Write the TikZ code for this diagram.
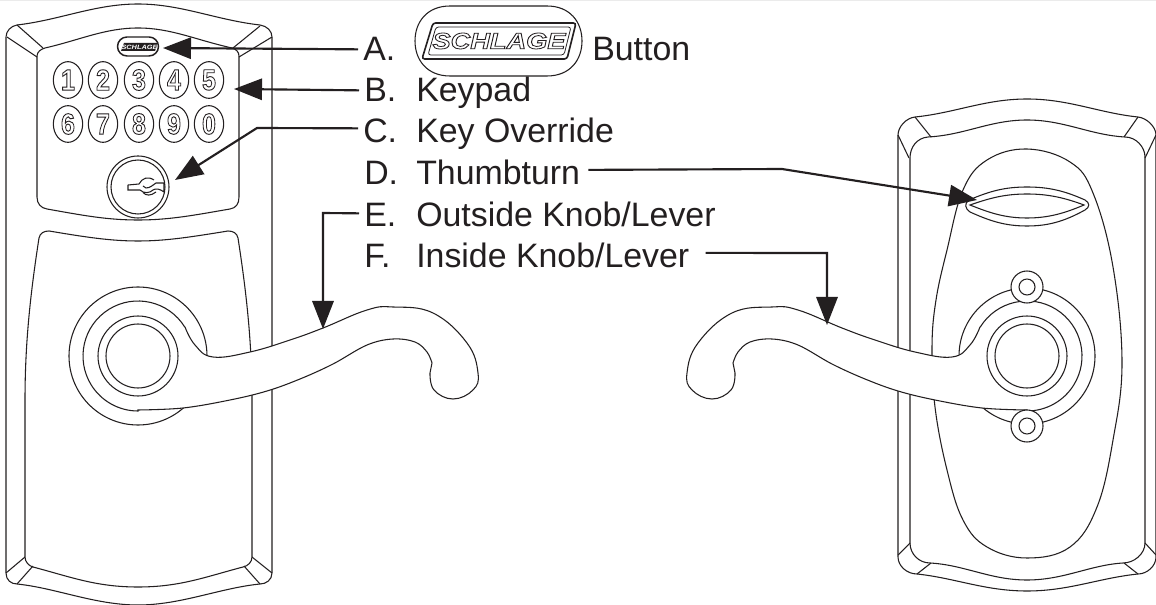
\documentclass[tikz,border=0pt]{standalone}
\usepackage{fontspec}
\setmainfont{Liberation Sans}
\usetikzlibrary{arrows.meta,calc,shapes.geometric}
\definecolor{ink}{HTML}{231F20}
\newcommand{\outlined}[2]{\special{pdf:code q 1 Tr #1 w 0.14 0.12 0.13 RG}#2\special{pdf:code 0 Tr Q}}
\newcommand{\leverpath}{%
  \draw[lw,fill=white] (138,356) ++(-32:55) arc[start angle=-32,end angle=-270,radius=55]
   -- plot[smooth,tension=.6] coordinates {(138,410) (183,408) (230,400) (267,391) (300,379) (333,364) (367,345) (393,339) (415,342) (427,352) (432,363)}
   -- plot[smooth,tension=.7] coordinates {(430,373) (434,390) (453,399) (473,390) (478,373) (467,343) (433,313) (393,307) (367,310) (323,328) (290,340) (250,352) (213,357) (195,345) (185,327)} -- cycle;
}
\tikzset{
  lw/.style={line width=.8pt,draw=ink},
  labeltext/.style={font=\fontsize{25.4}{30}\selectfont,text=ink,anchor=base west,inner sep=0pt},
  pointer/.style={line width=1.6pt,draw=ink,-{Triangle[length=21pt,width=16pt,fill=ink]}},
  keybtn/.style={ellipse,draw=ink,line width=.8pt,minimum width=22pt,minimum height=27.5pt,inner sep=0pt},
  x=.75pt,y=-.75pt
}
\begin{document}
\begin{tikzpicture}
\useasboundingbox (0,0) rectangle (1156,605);
\fill[white] (0,0) rectangle (1156,605);
\fill[black!8] (0,0) rectangle (1156,1);
% ---------- left plate
\draw[lw] (17,25) .. controls (60,20) and (95,4) .. (138,4) .. controls (181,4) and (216,20) .. (260,25)
  .. controls (267,26) and (272,31) .. (272,37) -- (272,573) .. controls (272,580) and (266,584) .. (260,584)
  .. controls (220,588) and (181,605) .. (138,605) .. controls (95,605) and (56,588) .. (17,584)
  .. controls (11,584) and (6,580) .. (6,573) -- (6,37) .. controls (6,31) and (11,26) .. (17,25) -- cycle;
\draw[lw] (45,48) .. controls (80,40) and (105,28) .. (138,28) .. controls (171,28) and (196,40) .. (232,48)
  .. controls (236,49) and (239,52) .. (239,56) -- (239,197) .. controls (239,204) and (236,208) .. (230,209)
  .. controls (195,215) and (170,220) .. (138,220) .. controls (106,220) and (81,215) .. (47,209)
  .. controls (41,208) and (37,204) .. (37,197) -- (37,56) .. controls (37,52) and (41,49) .. (45,48) -- cycle;
\draw[lw] (49,231) .. controls (85,237) and (110,241) .. (138,241) .. controls (166,241) and (191,237) .. (228,231)
  .. controls (233,231) and (237,233) .. (238,238) .. controls (246,290) and (252,340) .. (252,400) -- (252,557)
  .. controls (252,562) and (248,566) .. (243,567) .. controls (205,577) and (180,587) .. (138,587)
  .. controls (96,587) and (71,577) .. (33,567) .. controls (29,566) and (25,562) .. (25,557) -- (25,400)
  .. controls (25,340) and (31,290) .. (39,238) .. controls (40,233) and (44,231) .. (49,231) -- cycle;
\draw[lw] (17,25)--(43,48) (7,37)--(37,57) (260,26)--(233,48) (272,37)--(239,57)
  (25,557)--(6,573) (33,566)--(17,584) (252,557)--(272,573) (244,566)--(260,584);
% ---------- left logo button
\draw[draw=ink,line width=1.1pt] (127,37) -- (149,37) arc[start angle=-90,end angle=90,radius=9.5] -- (127,56) arc[start angle=90,end angle=270,radius=9.5] -- cycle;
\fill[ink] (124,43) -- (158,43) -- (155,51) -- (121,51) -- cycle;
\node[inner sep=0pt,text=white] (smalllogo) at (139.5,47) {\scalebox{1.2}[1]{\fontsize{4.6}{5}\selectfont\bfseries\itshape SCHLAGE}};
% ---------- keys
\foreach \d/\cx/\cy in {1/68/80,2/103/80,3/139/80,4/174/80,5/209/80,6/68/124,7/103/124,8/139/124,9/174/124,0/209/124}{
  \node[keybtn] (k\d) at (\cx,\cy) {\scalebox{.85}[1]{\fontsize{22}{24}\selectfont\bfseries\outlined{0.7}{\d}}};
}
% ---------- key cylinder
\draw[lw] (138,187) circle[radius=31] (138,187) circle[radius=27];
\draw[lw] (128,185) -- (139,184) .. controls (142,178) and (148,176) .. (154,180);
\draw[lw] (128,185) -- (128,190) -- (140,190) .. controls (144,194) and (150,193) .. (153,190) .. controls (156,188) and (160,189) .. (164,192) -- (164,183) -- (156,183)
  .. controls (153,185) and (150,188) .. (146,188) -- (143,186);
\draw[lw] (143,192.5) .. controls (146,196) and (151,196) .. (156,192);
% ---------- lever left
\draw[lw,fill=white] (138,356) circle[radius=69];
\leverpath
\draw[lw] (138,356) circle[radius=40] (138,356) circle[radius=32];
% ---------- right plate
\draw[lw] (915,117) .. controls (955,113) and (985,99) .. (1027,99) .. controls (1069,99) and (1099,113) .. (1138,117)
 .. controls (1147,118) and (1156,127) .. (1156,135) -- (1156,557) .. controls (1156,566) and (1147,574) .. (1138,574)
 .. controls (1099,578) and (1069,591) .. (1027,591) .. controls (985,591) and (955,578) .. (917,574)
 .. controls (907,574) and (898,566) .. (898,557) -- (898,135) .. controls (898,127) and (906,118) .. (915,117) -- cycle;
\draw[lw] (928,137) .. controls (965,135) and (990,120) .. (1027,120) .. controls (1064,120) and (1090,135) .. (1125,137)
 .. controls (1136,137) and (1145,147) .. (1145,157) -- (1145,543) .. controls (1145,554) and (1134,563) .. (1123,563)
 .. controls (1090,565) and (1064,580) .. (1027,580) .. controls (990,580) and (965,565) .. (930,563)
 .. controls (919,563) and (910,554) .. (910,543) -- (910,158) .. controls (910,147) and (917,138) .. (928,137) -- cycle;
\draw[lw] (915,117)--(931,137) (898,135)--(909,158) (1138,117)--(1124,137) (1156,135)--(1145,158)
 (898,555)--(910,543) (917,574)--(931,563) (1138,574)--(1124,563) (1156,555)--(1145,543);
% oval
\draw[lw] plot[smooth cycle,tension=.65] coordinates {(1027,149) (987,160) (963,190) (947,250) (936,300) (932,347) (935,407) (947,470) (963,520) (987,547) (1027,558) (1070,547) (1097,507) (1113,440) (1122,363) (1113,267) (1093,193) (1070,162)};
% thumbturn
\draw[lw] (969,200) .. controls (990,191) and (1005,187) .. (1027,187) .. controls (1049,187) and (1065,191) .. (1085,200)
 .. controls (1090,203) and (1090,207) .. (1085,210) .. controls (1065,221) and (1049,226) .. (1027,226)
 .. controls (1005,226) and (990,221) .. (970,212) .. controls (965,209) and (964,203) .. (969,200) -- cycle;
\draw[lw] (970,205) .. controls (990,198) and (1005,194) .. (1027,194) .. controls (1049,194) and (1065,198) .. (1084,205)
 .. controls (1065,213) and (1049,218) .. (1027,218) .. controls (1005,218) and (990,213) .. (970,205) -- cycle;
% right lever
\draw[lw,fill=white] (1027,356) circle[radius=68];
\begin{scope}[shift={(1165,0)},xscale=-1]
\leverpath
\end{scope}
\draw[lw] (1027,356) circle[radius=40] (1027,356) circle[radius=32];
\draw[lw,fill=white] (1027,287) circle[radius=16];
\draw[lw] (1027,287) circle[radius=8];
\draw[lw,fill=white] (1027,426) circle[radius=16];
\draw[lw] (1027,426) circle[radius=8];
% ---------- labels
\node[labeltext] (lA) at (363,61) {A.};
\node[labeltext] (lB) at (364,102) {B.};
\node[labeltext] (lC) at (363,143) {C.};
\node[labeltext] (lD) at (364,185) {D.};
\node[labeltext] (lE) at (364,227) {E.};
\node[labeltext] (lF) at (364,268) {F.};
\node[labeltext] (tB) at (416,102) {Keypad};
\node[labeltext] (tC) at (416,143) {Key Override};
\node[labeltext] (tD) at (416,185) {Thumbturn};
\node[labeltext] (tE) at (416,227) {Outside Knob/Lever};
\node[labeltext] (tF) at (416,268) {Inside Knob/Lever};
\node[labeltext] (tA) at (592,61) {Button};
% ---------- big logo
\draw[lw] (450,6) -- (547,6) .. controls (570,6) and (582,22) .. (582,41) .. controls (582,60) and (570,76) .. (547,76)
  -- (450,76) .. controls (427,76) and (415,60) .. (415,41) .. controls (415,22) and (427,6) .. (450,6) -- cycle;
\draw[line width=1.2pt,draw=ink,rounded corners=2pt] (433,23) -- (576,23) -- (567,59) -- (422,59) -- cycle;
\draw[line width=.6pt,draw=ink,rounded corners=2pt] (436,27) -- (571,27) -- (564,55) -- (428,55) -- cycle;
\node[inner sep=0pt] (biglogo) at (499,41) {\scalebox{1.2}[1]{\fontsize{17}{18}\selectfont\bfseries\itshape\outlined{0.6}{SCHLAGE}}};
% ---------- connectors
\coordinate (tipA) at (163,48);
\coordinate (tipB) at (234,89);
\coordinate (bendC) at (257,128);
\coordinate (tipC) at (175,180);
\coordinate (bendD) at (782,169);
\coordinate (tipD) at (977,200);
\coordinate (bendE) at (323,213);
\coordinate (tipE) at (323,329);
\coordinate (bendF) at (827,253);
\coordinate (tipF) at (827,325);
\draw[pointer] ($(lA.west)+(-5,0)$) -- (tipA);
\draw[pointer] ($(lB.west)+(-5,0)$) -- (tipB);
\draw[pointer] ($(lC.west)+(-5,-3)$) -- (bendC) -- (tipC);
\draw[pointer] ($(tD.east)+(8,-3)$) -- (bendD) -- (tipD);
\draw[pointer] ($(lE.west)+(-5,-2)$) -- (bendE) -- (tipE);
\draw[pointer] ($(tF.east)+(16,-3)$) -- (bendF) -- (tipF);
\end{tikzpicture}
\end{document}
